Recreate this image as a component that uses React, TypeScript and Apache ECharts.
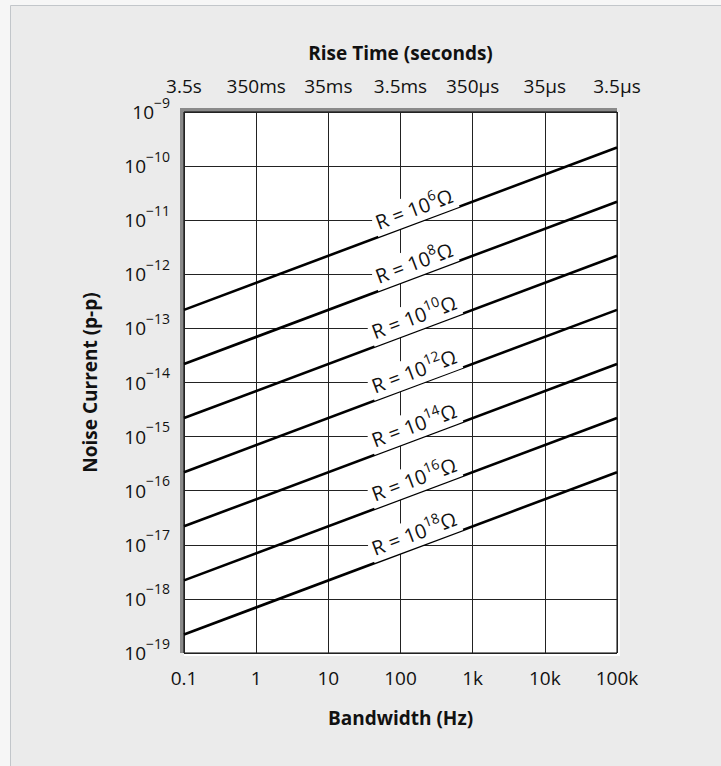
import React, { useEffect, useRef } from "react";
import * as echarts from "echarts";

const bandwidthLabels = ["0.1", "1", "10", "100", "1k", "10k", "100k"];
const riseTimeLabels = ["3.5s", "350ms", "35ms", "3.5ms", "350µs", "35µs", "3.5µs"];
const yExponentLabels = ["−19", "−18", "−17", "−16", "−15", "−14", "−13", "−12", "−11", "−10", "−9"];

const resistanceExponents = ["6", "8", "10", "12", "14", "16", "18"];
const bandwidthRange = [0.1, 100000];
const currentAtStart = [2.2e-13, 2.2e-14, 2.2e-15, 2.2e-16, 2.2e-17, 2.2e-18, 2.2e-19];
const currentAtEnd = [2.2e-10, 2.2e-11, 2.2e-12, 2.2e-13, 2.2e-14, 2.2e-15, 2.2e-16];
const labelBandwidth = 180;
const labelCurrent = [9.3e-12, 9.3e-13, 9.3e-14, 9.3e-15, 9.3e-16, 9.3e-17, 9.3e-18];

const FONT = "Open Sans";

export default function App() {
  const ref = useRef<HTMLDivElement>(null);
  useEffect(() => {
    if (!ref.current) return;
    const chart = echarts.init(ref.current, null, { renderer: "svg" });
    const decadeIndex = (v: number, min: number) => Math.round(Math.log10(v) - Math.log10(min));

    const series: any[] = resistanceExponents.map((exp, i) => ({
      type: "line",
      name: "R = 10^" + exp,
      xAxisIndex: 0,
      yAxisIndex: 0,
      symbol: "none",
      data: [
        [bandwidthRange[0], currentAtStart[i]],
        [bandwidthRange[1], currentAtEnd[i]],
      ],
      lineStyle: { color: "#000", width: 2.6 },
      z: 3,
      markPoint: {
        symbol: "circle",
        symbolSize: 0,
        itemStyle: { color: "transparent" },
        z: 5,
        data: [{ coord: [labelBandwidth, labelCurrent[i]] }],
        label: {
          show: true,
          position: "inside",
          rotate: 20.5,
          offset: [0, -14],
          backgroundColor: "#fff",
          padding: [0, 3],
          formatter: "{a|R = 10}{s|" + exp + "}{a|Ω}",
          rich: {
            a: { fontFamily: FONT, fontSize: 20, color: "#111", lineHeight: 22 },
            s: { fontFamily: FONT, fontSize: 14, color: "#111", padding: [0, 0, 14, 0] },
          },
        },
      },
    }));

    chart.setOption({
      animation: false,
      backgroundColor: "#f6f6f6",
      textStyle: { fontFamily: FONT },
      graphic: [
        {
          type: "rect",
          z: -10,
          shape: { x: 10.5, y: 5.5, width: 720, height: 770 },
          style: { fill: "#ebebeb", stroke: "#c2c6ca", lineWidth: 1 },
        },
        {
          type: "rect",
          z: -9,
          shape: { x: 180, y: 108, width: 437, height: 545 },
          style: { fill: "#8a8a8a" },
        },
        {
          type: "rect",
          z: -8,
          shape: { x: 184, y: 112, width: 436, height: 544 },
          style: { fill: "#ffffff" },
        },
      ],
      grid: {
        left: 184,
        top: 112,
        right: 104,
        bottom: 113,
        show: true,
        backgroundColor: "#fff",
        borderColor: "#000",
        borderWidth: 1,
      },
      xAxis: [
        {
          type: "log",
          position: "bottom",
          min: bandwidthRange[0],
          max: bandwidthRange[1],
          interval: 1,
          name: "Bandwidth (Hz)",
          nameLocation: "middle",
          nameGap: 55,
          nameTextStyle: { fontFamily: FONT, fontSize: 19, fontWeight: "bold", color: "#111" },
          axisLine: { show: false },
          axisTick: { show: false },
          axisLabel: {
            interval: 0,
            margin: 15,
            fontFamily: FONT,
            fontSize: 19,
            color: "#111",
            formatter: (v: number) => bandwidthLabels[decadeIndex(v, bandwidthRange[0])] ?? "",
          },
          splitLine: { show: true, lineStyle: { color: "#222", width: 1 } },
        },
        {
          type: "log",
          position: "top",
          min: bandwidthRange[0],
          max: bandwidthRange[1],
          interval: 1,
          name: "Rise Time (seconds)",
          nameLocation: "middle",
          nameGap: 50,
          nameTextStyle: { fontFamily: FONT, fontSize: 19, fontWeight: "bold", color: "#111" },
          axisLine: { show: false },
          axisTick: { show: false },
          axisLabel: {
            interval: 0,
            margin: 17,
            fontFamily: FONT,
            fontSize: 19,
            color: "#111",
            formatter: (v: number) => riseTimeLabels[decadeIndex(v, bandwidthRange[0])] ?? "",
          },
          splitLine: { show: false },
        },
      ],
      yAxis: {
        type: "log",
        min: 1e-19,
        max: 1e-9,
        interval: 1,
        name: "Noise Current (p-p)",
        nameLocation: "middle",
        nameGap: 85,
        nameTextStyle: { fontFamily: FONT, fontSize: 19, fontWeight: "bold", color: "#111" },
        axisLine: { show: false },
        axisTick: { show: false },
        axisLabel: {
          interval: 0,
          margin: 14,
          formatter: (v: number) => "{b|10}{s|" + (yExponentLabels[decadeIndex(v, 1e-19)] ?? "") + "}",
          rich: {
            b: { fontFamily: FONT, fontSize: 19, color: "#111", lineHeight: 20 },
            s: { fontFamily: FONT, fontSize: 14, color: "#111", lineHeight: 1, padding: [0, 0, 20, 0] },
          },
        },
        splitLine: { show: true, lineStyle: { color: "#222", width: 1 } },
      },
      series,
    });
    return () => chart.dispose();
  }, []);
  return (
    <div
      ref={ref}
      style={{ position: "absolute", left: 0, top: 0, width: 721, height: 766 }}
    />
  );
}
